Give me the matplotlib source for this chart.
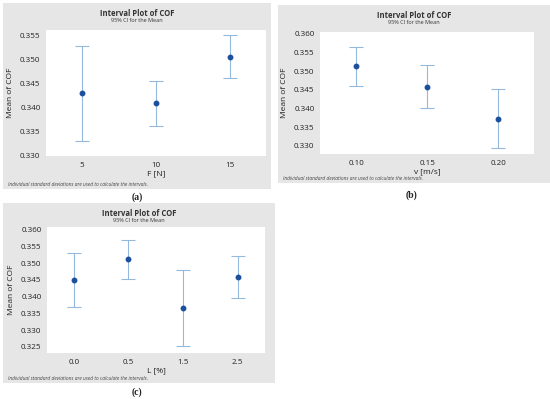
import matplotlib.pyplot as plt
from matplotlib.patches import Rectangle

W, H = 550, 399

# (a) F [N]
f_labels = ["5", "10", "15"]
f_mean = [0.3430, 0.3409, 0.3506]
f_low = [0.3331, 0.3362, 0.3461]
f_high = [0.3529, 0.3455, 0.3551]

# (b) v [m/s]
v_labels = ["0.10", "0.15", "0.20"]
v_mean = [0.3513, 0.3458, 0.3373]
v_low = [0.3461, 0.3400, 0.3293]
v_high = [0.3565, 0.3516, 0.3452]

# (c) L [%]
l_labels = ["0.0", "0.5", "1.5", "2.5"]
l_mean = [0.3451, 0.3513, 0.3367, 0.3460]
l_low = [0.3370, 0.3454, 0.3254, 0.3397]
l_high = [0.3531, 0.3570, 0.3480, 0.3522]

plt.rcParams['font.family'] = ['Open Sans', 'DejaVu Sans']

fig = plt.figure(figsize=(W / 100, H / 100), dpi=100)

GRAY = "#e6e6e6"
BAR = "#93b9dc"
DOT = "#1c4f9c"


def box(x0, y0, x1, y1):
    # pixel box (top-left origin) -> figure rect
    return [x0 / W, 1 - y1 / H, (x1 - x0) / W, (y1 - y0) / H]


def panel(gray, plot, labels, mean, low, high, xlabel, yticks, ylim, xpad, letter, letter_xy):
    gx0, gy0, gx1, gy1 = gray
    fig.patches.append(Rectangle((gx0 / W, 1 - gy1 / H), (gx1 - gx0) / W, (gy1 - gy0) / H,
                                 transform=fig.transFigure, facecolor=GRAY, edgecolor="none",
                                 zorder=-5))
    ax = fig.add_axes(box(*plot))
    ax.set_facecolor("white")
    x = list(range(len(labels)))
    err = [[m - lo for m, lo in zip(mean, low)], [hi - m for m, hi in zip(mean, high)]]
    ax.errorbar(x, mean, yerr=err, fmt="none", ecolor=BAR, elinewidth=0.8,
                capsize=5, capthick=0.8)
    ax.plot(x, mean, "o", color=DOT, markersize=3.2, zorder=3)
    ax.set_xlim(-xpad[0], len(labels) - 1 + xpad[1])
    ax.set_ylim(*ylim)
    ax.set_xticks(x)
    ax.set_xticklabels(labels)
    ax.set_yticks(yticks)
    ax.set_yticklabels([f"{t:.3f}" for t in yticks])
    for s in ax.spines.values():
        s.set_visible(False)
    ax.tick_params(length=0, labelsize=5.8, colors="#222222", pad=4)
    ax.set_xlabel(xlabel, fontsize=6, color="#222222", labelpad=1)
    ax.set_ylabel("Mean of COF", fontsize=6, color="#222222", labelpad=4)
    cx = (gx0 + gx1) / 2 / W
    fig.text(cx, 1 - (gy0 + 10) / H, "Interval Plot of COF", ha="center", va="center",
             fontsize=5.5, fontweight="bold", color="#333333")
    fig.text(cx, 1 - (gy0 + 18) / H, "95% CI for the Mean", ha="center", va="center",
             fontsize=4, color="#333333")
    fig.text((gx0 + 5) / W, 1 - (gy1 - 5) / H,
             "Individual standard deviations are used to calculate the intervals.",
             ha="left", va="center", fontsize=3.5, style="italic", color="#444444")
    fig.text(letter_xy[0] / W, 1 - letter_xy[1] / H, letter, ha="center", va="center",
             fontsize=7, fontweight="bold", family="Liberation Serif", color="#222222")
    return ax


panel((3, 3, 271, 189), (46, 30, 266, 156), f_labels, f_mean, f_low, f_high, "F [N]",
      [0.330, 0.335, 0.340, 0.345, 0.350, 0.355], (0.3299, 0.3562), (0.48, 0.49),
      "(a)", (137, 197))
panel((278, 5, 550, 183), (320, 32, 534, 154), v_labels, v_mean, v_low, v_high, "v [m/s]",
      [0.330, 0.335, 0.340, 0.345, 0.350, 0.355, 0.360], (0.3278, 0.3605), (0.51, 0.50),
      "(b)", (412, 195))
panel((3, 203, 275, 383), (47, 227, 265, 353), l_labels, l_mean, l_low, l_high, "L [%]",
      [0.325, 0.330, 0.335, 0.340, 0.345, 0.350, 0.355, 0.360], (0.3232, 0.3608), (0.49, 0.50),
      "(c)", (137, 392))

fig.savefig("out.png", dpi=100, facecolor="white")
